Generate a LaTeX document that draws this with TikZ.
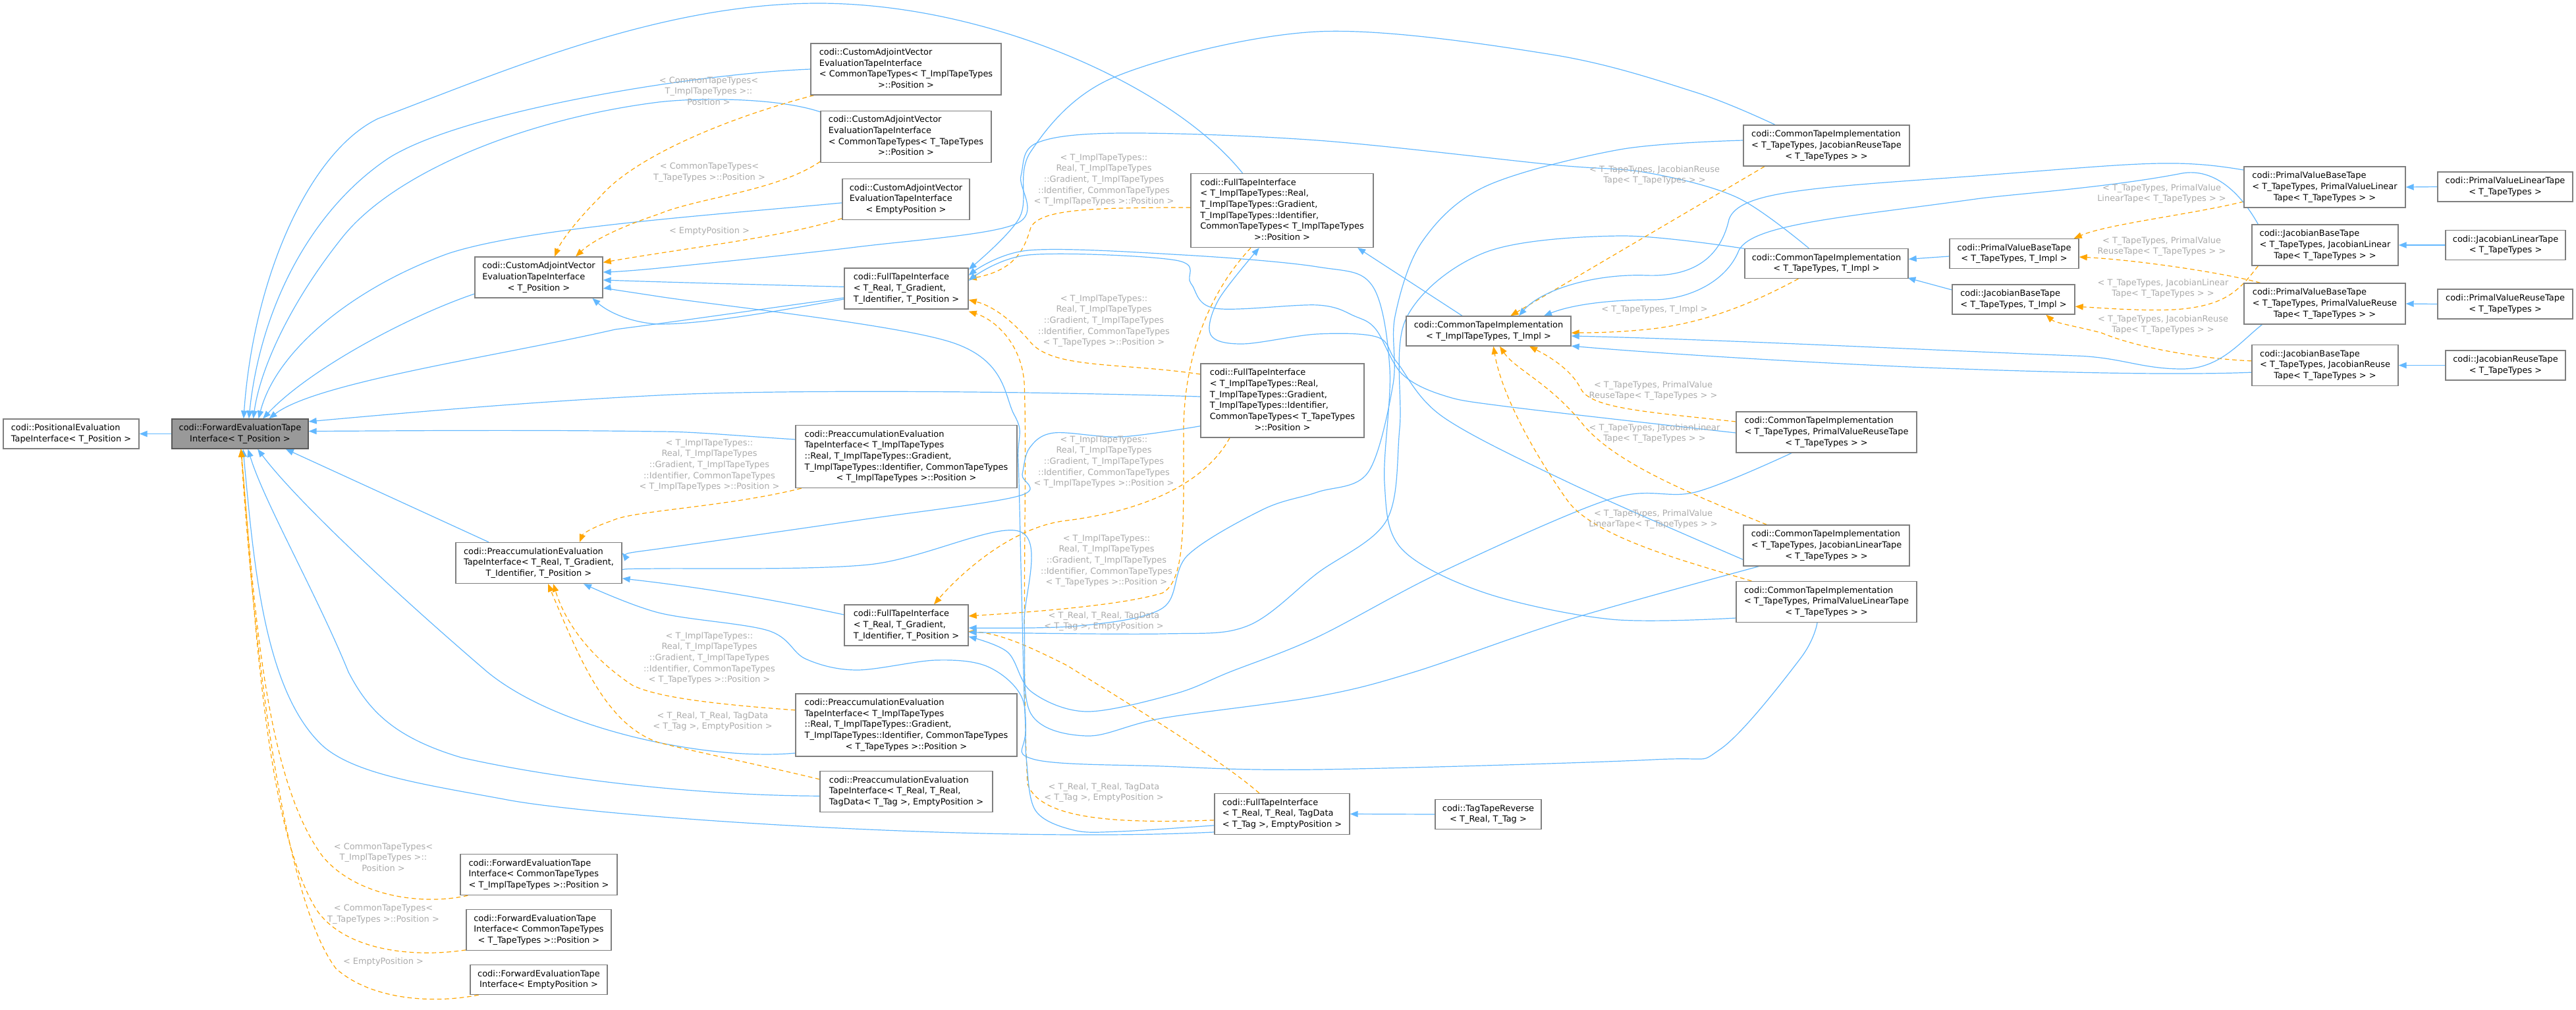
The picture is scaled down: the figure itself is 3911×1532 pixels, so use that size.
\documentclass[tikz,border=0pt]{standalone}
\usepackage{fontspec}
\setmainfont{DejaVu Sans}
\usetikzlibrary{arrows.meta}
\definecolor{eblue}{HTML}{63B8FF}
\definecolor{eorange}{HTML}{FFA500}
\definecolor{lgray}{HTML}{ABABAB}
\definecolor{bgray}{HTML}{7F7F7F}
\definecolor{ngray}{HTML}{999999}
\newcommand\cfont{\fontsize{9.7pt}{12.5pt}\selectfont}
\newcommand\bx[2]{\begin{tabular}{@{}l@{}}#1\multicolumn{1}{@{}c@{}}{#2}\end{tabular}}
\pgfdeclarelayer{bg}
\pgfsetlayers{bg,main}
\tikzset{
  cls/.style={draw=bgray, fill=white, line width=1pt, inner sep=0pt, font=\cfont},
  sz/.style 2 args={minimum width=#1*0.75pt, minimum height=#2*0.75pt},
  inh/.style={draw=eblue, line width=0.9pt, -{Triangle[length=9pt,width=7pt]}},
  tpl/.style={draw=eorange, line width=0.9pt, dash pattern=on 5pt off 3.5pt, -{Triangle[length=9pt,width=7pt]}},
  lbl/.style={text=lgray, font=\cfont, align=center, inner sep=0pt},
  sm/.style={smooth, tension=0.55},
}
\begin{document}
\begin{tikzpicture}[x=0.75pt,y=-0.75pt]
\useasboundingbox (0,0) rectangle (3911,1532);
% ---------------- nodes
\node[cls,sz={206}{45}] (pos) at (108,658.5) {\bx{codi::PositionalEvaluation\\}{TapeInterface< T\_Position >}};
\node[cls,sz={207}{45},fill=ngray,draw=bgray!70!black] (fet) at (364.5,658.5) {\bx{codi::ForwardEvaluationTape\\}{Interface< T\_Position >}};
\node[cls,sz={194}{62}] (cav) at (818,421) {\bx{codi::CustomAdjointVector\\EvaluationTapeInterface\\}{< T\_Position >}};
\node[cls,sz={252}{62}] (pei) at (818,854.5) {\bx{codi::PreaccumulationEvaluation\\TapeInterface< T\_Real, T\_Gradient,\\}{T\_Identifier, T\_Position >}};
\node[cls,sz={238}{62}] (feti) at (818,1327.5) {\bx{codi::ForwardEvaluationTape\\Interface< CommonTapeTypes\\}{< T\_ImplTapeTypes >::Position >}};
\node[cls,sz={220}{62}] (fett) at (818,1411.5) {\bx{codi::ForwardEvaluationTape\\Interface< CommonTapeTypes\\}{< T\_TapeTypes >::Position >}};
\node[cls,sz={208}{45}] (fete) at (818,1487) {\bx{codi::ForwardEvaluationTape\\}{Interface< EmptyPosition >}};
\node[cls,sz={289}{78}] (cav1) at (1375.5,105) {\bx{codi::CustomAdjointVector\\EvaluationTapeInterface\\< CommonTapeTypes< T\_ImplTapeTypes\\}{>::Position >}};
\node[cls,sz={259}{78}] (cav2) at (1375.5,207.5) {\bx{codi::CustomAdjointVector\\EvaluationTapeInterface\\< CommonTapeTypes< T\_TapeTypes\\}{>::Position >}};
\node[cls,sz={193}{62}] (cav3) at (1375.5,302.5) {\bx{codi::CustomAdjointVector\\EvaluationTapeInterface\\}{< EmptyPosition >}};
\node[cls,sz={188}{62}] (fti1) at (1376,438) {\bx{codi::FullTapeInterface\\< T\_Real, T\_Gradient,\\}{T\_Identifier, T\_Position >}};
\node[cls,sz={188}{62}] (fti2) at (1376,949) {\bx{codi::FullTapeInterface\\< T\_Real, T\_Gradient,\\}{T\_Identifier, T\_Position >}};
\node[cls,sz={336}{95}] (peii) at (1376,693) {\bx{codi::PreaccumulationEvaluation\\TapeInterface< T\_ImplTapeTypes\\::Real, T\_ImplTapeTypes::Gradient,\\T\_ImplTapeTypes::Identifier, CommonTapeTypes\\}{< T\_ImplTapeTypes >::Position >}};
\node[cls,sz={336}{95}] (peit) at (1376,1100.5) {\bx{codi::PreaccumulationEvaluation\\TapeInterface< T\_ImplTapeTypes\\::Real, T\_ImplTapeTypes::Gradient,\\T\_ImplTapeTypes::Identifier, CommonTapeTypes\\}{< T\_TapeTypes >::Position >}};
\node[cls,sz={262}{62}] (peitag) at (1376,1201.5) {\bx{codi::PreaccumulationEvaluation\\TapeInterface< T\_Real, T\_Real,\\}{TagData< T\_Tag >, EmptyPosition >}};
\node[cls,sz={277}{112}] (ftii) at (1946.5,319.5) {\bx{codi::FullTapeInterface\\< T\_ImplTapeTypes::Real,\\T\_ImplTapeTypes::Gradient,\\T\_ImplTapeTypes::Identifier,\\CommonTapeTypes< T\_ImplTapeTypes\\}{>::Position >}};
\node[cls,sz={248}{112}] (ftit) at (1947,608) {\bx{codi::FullTapeInterface\\< T\_ImplTapeTypes::Real,\\T\_ImplTapeTypes::Gradient,\\T\_ImplTapeTypes::Identifier,\\CommonTapeTypes< T\_TapeTypes\\}{>::Position >}};
\node[cls,sz={205}{62}] (ftitag) at (1946.5,1235.5) {\bx{codi::FullTapeInterface\\< T\_Real, T\_Real, TagData\\}{< T\_Tag >, EmptyPosition >}};
\node[cls,sz={161}{45}] (ttr) at (2259.5,1236) {\bx{codi::TagTapeReverse\\}{< T\_Real, T\_Tag >}};
\node[cls,sz={250}{45}] (ctii) at (2260,502.5) {\bx{codi::CommonTapeImplementation\\}{< T\_ImplTapeTypes, T\_Impl >}};
\node[cls,sz={252}{62}] (ctijr) at (2773,221) {\bx{codi::CommonTapeImplementation\\< T\_TapeTypes, JacobianReuseTape\\}{< T\_TapeTypes > >}};
\node[cls,sz={248}{45}] (ctit) at (2773,400) {\bx{codi::CommonTapeImplementation\\}{< T\_TapeTypes, T\_Impl >}};
\node[cls,sz={274}{62}] (ctipvr) at (2773,656) {\bx{codi::CommonTapeImplementation\\< T\_TapeTypes, PrimalValueReuseTape\\}{< T\_TapeTypes > >}};
\node[cls,sz={252}{62}] (ctijl) at (2773,828) {\bx{codi::CommonTapeImplementation\\< T\_TapeTypes, JacobianLinearTape\\}{< T\_TapeTypes > >}};
\node[cls,sz={274}{62}] (ctipvl) at (2773,913.5) {\bx{codi::CommonTapeImplementation\\< T\_TapeTypes, PrimalValueLinearTape\\}{< T\_TapeTypes > >}};
\node[cls,sz={196}{45}] (pvb) at (3058,385) {\bx{codi::PrimalValueBaseTape\\}{< T\_TapeTypes, T\_Impl >}};
\node[cls,sz={186}{45}] (jb) at (3057,454.5) {\bx{codi::JacobianBaseTape\\}{< T\_TapeTypes, T\_Impl >}};
\node[cls,sz={245}{62}] (pvbl) at (3529.5,284) {\bx{codi::PrimalValueBaseTape\\< T\_TapeTypes, PrimalValueLinear\\}{Tape< T\_TapeTypes > >}};
\node[cls,sz={222}{62}] (jbl) at (3530,372) {\bx{codi::JacobianBaseTape\\< T\_TapeTypes, JacobianLinear\\}{Tape< T\_TapeTypes > >}};
\node[cls,sz={245}{62}] (pvbr) at (3529.5,461) {\bx{codi::PrimalValueBaseTape\\< T\_TapeTypes, PrimalValueReuse\\}{Tape< T\_TapeTypes > >}};
\node[cls,sz={222}{62}] (jbr) at (3530,554.5) {\bx{codi::JacobianBaseTape\\< T\_TapeTypes, JacobianReuse\\}{Tape< T\_TapeTypes > >}};
\node[cls,sz={205}{45}] (pvlt) at (3803.5,283.5) {\bx{codi::PrimalValueLinearTape\\}{< T\_TapeTypes >}};
\node[cls,sz={182}{45}] (jlt) at (3804,372) {\bx{codi::JacobianLinearTape\\}{< T\_TapeTypes >}};
\node[cls,sz={205}{45}] (pvrt) at (3803.5,461.5) {\bx{codi::PrimalValueReuseTape\\}{< T\_TapeTypes >}};
\node[cls,sz={182}{45}] (jrt) at (3804,554.5) {\bx{codi::JacobianReuseTape\\}{< T\_TapeTypes >}};
% ---------------- labels
\node[lbl] (lcav1) at (1076,138) {< CommonTapeTypes<\\T\_ImplTapeTypes >::\\Position >};
\node[lbl] (lcav2) at (1077,262) {< CommonTapeTypes<\\T\_TapeTypes >::Position >};
\node[lbl] (lcav3) at (1077,351) {< EmptyPosition >};
\node[lbl] (lfeti) at (582,1301) {< CommonTapeTypes<\\T\_ImplTapeTypes >::\\Position >};
\node[lbl] (lfett) at (582,1388) {< CommonTapeTypes<\\T\_TapeTypes >::Position >};
\node[lbl] (lfete) at (582,1460) {< EmptyPosition >};
\node[lbl] (lpeii) at (1077,706) {< T\_ImplTapeTypes::\\Real, T\_ImplTapeTypes\\::Gradient, T\_ImplTapeTypes\\::Identifier, CommonTapeTypes\\< T\_ImplTapeTypes >::Position >};
\node[lbl] (lpeit) at (1077,999) {< T\_ImplTapeTypes::\\Real, T\_ImplTapeTypes\\::Gradient, T\_ImplTapeTypes\\::Identifier, CommonTapeTypes\\< T\_TapeTypes >::Position >};
\node[lbl] (lpeitag) at (1082,1095) {< T\_Real, T\_Real, TagData\\< T\_Tag >, EmptyPosition >};
\node[lbl] (lf1) at (1676,273) {< T\_ImplTapeTypes::\\Real, T\_ImplTapeTypes\\::Gradient, T\_ImplTapeTypes\\::Identifier, CommonTapeTypes\\< T\_ImplTapeTypes >::Position >};
\node[lbl] (lf2) at (1676,487) {< T\_ImplTapeTypes::\\Real, T\_ImplTapeTypes\\::Gradient, T\_ImplTapeTypes\\::Identifier, CommonTapeTypes\\< T\_TapeTypes >::Position >};
\node[lbl] (lf3) at (1676,701) {< T\_ImplTapeTypes::\\Real, T\_ImplTapeTypes\\::Gradient, T\_ImplTapeTypes\\::Identifier, CommonTapeTypes\\< T\_ImplTapeTypes >::Position >};
\node[lbl] (lf4) at (1680,851) {< T\_ImplTapeTypes::\\Real, T\_ImplTapeTypes\\::Gradient, T\_ImplTapeTypes\\::Identifier, CommonTapeTypes\\< T\_TapeTypes >::Position >};
\node[lbl] (lt1) at (1676,943) {< T\_Real, T\_Real, TagData\\< T\_Tag >, EmptyPosition >};
\node[lbl] (lt2) at (1676,1203) {< T\_Real, T\_Real, TagData\\< T\_Tag >, EmptyPosition >};
\node[lbl] (lcjr) at (2512,266) {< T\_TapeTypes, JacobianReuse\\Tape< T\_TapeTypes > >};
\node[lbl] (lct) at (2512,470) {< T\_TapeTypes, T\_Impl >};
\node[lbl] (lcpvr) at (2510,593) {< T\_TapeTypes, PrimalValue\\ReuseTape< T\_TapeTypes > >};
\node[lbl] (lcjl) at (2512,658) {< T\_TapeTypes, JacobianLinear\\Tape< T\_TapeTypes > >};
\node[lbl] (lcpvl) at (2510,788) {< T\_TapeTypes, PrimalValue\\LinearTape< T\_TapeTypes > >};
\node[lbl] (lpvbl) at (3282,294) {< T\_TapeTypes, PrimalValue\\LinearTape< T\_TapeTypes > >};
\node[lbl] (lpvbr) at (3282,374) {< T\_TapeTypes, PrimalValue\\ReuseTape< T\_TapeTypes > >};
\node[lbl] (ljbl) at (3284,438) {< T\_TapeTypes, JacobianLinear\\Tape< T\_TapeTypes > >};
\node[lbl] (ljbr) at (3284,493) {< T\_TapeTypes, JacobianReuse\\Tape< T\_TapeTypes > >};
% ---------------- edges
\begin{pgfonlayer}{bg}
\draw[inh] (fet.west) -- (pos.east);
% into FET top
\draw[inh] ([xshift=-45pt]ftii.north) .. controls (1780,130) and (1500,5) .. (1242,5) .. controls (1000,5) and (760,110) .. (574,180) .. controls (470,230) and (385,420) .. ([xshift=4pt]fet.north);
\draw[inh] (cav1.west) .. controls (1050,112) and (700,170) .. (590,240) .. controls (470,320) and (395,470) .. ([xshift=10pt]fet.north);
\draw[inh] ([yshift=-1.5pt]cav2.north west) .. controls (1180,148) and (1060,148) .. (1000,155) .. controls (800,180) and (600,260) .. (520,360) .. controls (440,460) and (395,560) .. ([xshift=15pt]fet.north);
\draw[inh] ([yshift=-4pt]cav3.west) .. controls (1100,325) and (800,345) .. (680,385) .. controls (540,435) and (420,530) .. ([xshift=21pt]fet.north);
\draw[inh] ([yshift=5pt]cav.south west) .. controls (620,480) and (470,560) .. ([xshift=26pt]fet.north);
\draw[inh] ([yshift=-10.5pt]fti1.west) .. controls (1150,470) and (1050,485) .. (934,500) .. controls (760,540) and (480,580) .. ([xshift=33pt]fet.north);
% into FET right
\draw[inh] ([yshift=4.5pt]ftit.west) .. controls (1500,592) and (1150,592) .. (1000,600) .. controls (800,610) and (600,628) .. ([yshift=14pt]fet.east);
\draw[inh] ([yshift=19.5pt]peii.west) .. controls (1100,660) and (1050,655) .. (1000,655) .. controls (800,652) and (600,654) .. ([yshift=3pt]fet.east);
% into FET bottom
\draw[inh] ([xshift=38pt]pei.north west) -- ([xshift=52pt]fet.south);
\draw[inh] ([yshift=-31.9pt]peit.west) .. controls (1080,1155) and (850,1110) .. (740,1020) .. controls (600,900) and (450,760) .. ([xshift=20pt]fet.south);
\draw[inh] ([yshift=-5pt]peitag.west) .. controls (1100,1208) and (880,1190) .. (701,1150) .. controls (600,1120) and (560,1080) .. (529,1020) .. controls (480,900) and (400,760) .. ([xshift=9pt]fet.south);
\draw[inh] ([yshift=-20.6pt]ftitag.west) .. controls (1500,1280) and (900,1240) .. (765,1213) .. controls (640,1190) and (540,1175) .. (491,1133) .. controls (400,1050) and (385,850) .. ([xshift=3.4pt]fet.south);
% FET instances
\draw[tpl] ([xshift=9pt]feti.south west) .. controls (640,1375) and (540,1360) .. (490,1300) .. controls (400,1180) and (385,900) .. ([xshift=1pt]fet.south);
\draw[tpl] ([yshift=1pt]fett.south west) .. controls (620,1455) and (520,1440) .. (480,1380) .. controls (400,1250) and (385,900) .. ([xshift=1pt]fet.south);
\draw[tpl] ([xshift=10pt]fete.south west) .. controls (650,1525) and (560,1515) .. (510,1470) .. controls (420,1350) and (380,900) .. ([xshift=1pt]fet.south);
% CAV instances
\draw[tpl] ([xshift=4pt]cav1.south west) .. controls (1100,180) and (960,240) .. (910,300) .. controls (870,340) and (850,370) .. ([xshift=18pt]cav.north);
\draw[tpl] ([yshift=1.5pt]cav2.south west) .. controls (1180,290) and (1060,300) .. (1000,325) .. controls (940,345) and (900,365) .. ([xshift=42pt]cav.north);
\draw[tpl] ([yshift=2pt]cav3.south west) .. controls (1190,360) and (1050,375) .. ([yshift=17pt]cav.east);
% PEI instances
\draw[tpl] ([xshift=7pt]peii.south west) .. controls (1100,770) and (960,775) .. (930,790) .. controls (900,800) and (885,810) .. ([xshift=46.5pt]pei.north);
\draw[tpl] ([yshift=17pt]peit.west) .. controls (1100,1070) and (1000,1060) .. (960,1040) .. controls (900,1000) and (860,950) .. ([xshift=16.5pt]pei.south);
\draw[tpl] ([yshift=14pt]peitag.west) .. controls (1150,1160) and (1050,1140) .. (1000,1127) .. controls (920,1100) and (880,1000) .. ([xshift=10.5pt]pei.south);
% FTI instances
\draw[tpl] ([yshift=3.4pt]ftii.west) .. controls (1650,315) and (1580,318) .. (1565,345) .. controls (1555,380) and (1540,410) .. ([yshift=11pt]fti1.east);
\draw[tpl] ([yshift=30pt]ftit.west) .. controls (1700,550) and (1600,560) .. (1565,520) .. controls (1540,490) and (1510,465) .. ([yshift=-12.8pt]fti1.east);
\draw[tpl] ([yshift=-7pt]ftitag.west) .. controls (1700,1250) and (1580,1245) .. (1560,1190) .. controls (1550,1000) and (1560,700) .. (1555,580) .. controls (1550,520) and (1510,485) .. ([yshift=-26pt]fti1.east);
\draw[tpl] ([xshift=-35.6pt]ftii.south) .. controls (1830,450) and (1798,550) .. (1797,650) .. controls (1797,800) and (1800,880) .. (1765,900) .. controls (1700,920) and (1550,930) .. ([yshift=10.5pt]fti2.east);
\draw[tpl] ([xshift=-60pt]ftit.south) .. controls (1820,750) and (1700,780) .. (1620,790) .. controls (1530,800) and (1450,880) .. ([xshift=31.5pt]fti2.north);
\draw[tpl] ([xshift=-26pt]ftitag.north) .. controls (1850,1150) and (1700,1060) .. (1620,1010) .. controls (1560,980) and (1520,962) .. ([yshift=-7pt]fti2.east);
% FullTapeInterface bases
\draw[inh] ([yshift=2pt]fti1.west) .. controls (1150,432) and (1000,428) .. ([yshift=-3pt]cav.east);
\draw[inh] ([yshift=-12pt]fti1.west) .. controls (1150,478) and (1060,492) .. (1000,492) .. controls (960,490) and (925,475) .. ([xshift=61pt]cav.south);
\draw[inh] ([yshift=12pt]fti2.west) .. controls (1150,905) and (1050,890) .. ([yshift=-17.6pt]pei.east);
\draw[inh] plot[sm] coordinates {([yshift=-13pt]ftitag.west) (1700,1262) (1630,1260) (1572,1230) (1558,1150) (1552,1060) (1500,1012) (1421,1002) (1300,1017) (1223,1000) (1166,957) (1000,930) ([xshift=51pt]pei.south)};
\draw[inh] plot[sm] coordinates {([yshift=-29pt]ftit.west) (1702,663) (1600,657) (1563,680) (1552,720) (1546,753) (1300,790) (1000,833) ([yshift=11.6pt]pei.east)};
% CommonTapeImplementation instances
\draw[inh] plot[sm] coordinates {([xshift=-58.5pt]ctijr.north) (2574,140) (2357,83) (2000,48) (1692,117) (1565,230) (1548,330) ([yshift=-2pt]fti1.north east)};
\draw[inh] plot[sm] coordinates {([xshift=-20pt]ctit.north) (2638,300) (2500,262) (2357,250) (2000,213) (1702,202) (1574,217) (1550,267) (1542,340) (1300,375) (1000,407) ([yshift=6pt]cav.east)};
\draw[inh] plot[sm] coordinates {([yshift=-18.4pt]ctipvl.west) (2446,940) (2255,900) (2128,833) (2102,733) (2110,560) (2083,433) (2000,405) (1797,387) (1561,380) ([yshift=15pt]fti1.east)};
\draw[inh] plot[sm] coordinates {([yshift=-0.75pt]ctipvr.west) (2287,617) (2191,600) (2128,567) (2089,500) (2057,480) (2000,463) (1845,468) (1808,430) (1785,395) (1561,387) ([yshift=9pt]fti1.east)};
\draw[inh] plot[sm] coordinates {([yshift=-16pt]ctijl.west) (2383,733) (2191,633) (2121,550) (2092,512) (2000,507) (1886,522) (1838,508) (1850,455) ([xshift=-26pt]ftii.south)};
\draw[inh] plot[sm] coordinates {([yshift=6pt]ctijr.west) (2459,227) (2255,283) (2159,367) (2118,480) (2115,583) (2077,717) (2000,747) (1918,773) (1803,843) (1765,923) (1638,950) ([yshift=-3pt]fti2.east)};
\draw[inh] plot[sm] coordinates {([yshift=17pt]ctit.west) (2459,358) (2255,383) (2135,483) (2125,650) (2105,790) (2000,870) (1894,950) (1765,962) ([yshift=-8pt]fti2.east)};
\draw[inh] plot[sm] coordinates {([xshift=-39.75pt]ctipvr.south) (2574,747) (2446,757) (2191,867) (2000,967) (1867,1020) (1784,1053) (1650,1080) (1566,1050) (1530,990) ([yshift=-13pt]fti2.east)};
\draw[inh] plot[sm] coordinates {([xshift=-77pt]ctijl.south) (2383,940) (2147,1020) (2000,1057) (1765,1090) (1650,1117) (1565,1083) (1555,950) (1549,807) (1319,857) (1000,863) ([yshift=-5.6pt]pei.east)};
\draw[inh] plot[sm] coordinates {([xshift=-10.5pt]ctipvl.south) (2733,1000) (2612,1137) (2510,1153) (2000,1168) (1765,1163) (1568,1152) (1557,1100) (1551,900) (1546,700) (1540,630) (1446,520) (1000,450) ([yshift=-12.75pt]cav.east)};
% misc
\draw[inh] (ttr.west) -- (ftitag.east);
\draw[inh] ([xshift=-30pt]ctii.north) -- ([xshift=86pt]ftii.south);
% CTI instances (template)
\draw[tpl] ([xshift=-32pt]ctit.south) .. controls (2680,450) and (2600,490) .. (2500,500) .. controls (2450,505) and (2410,505) .. ([yshift=-2pt]ctii.east);
\draw[tpl] ([xshift=-70.5pt]ctijr.south) -- ([xshift=25pt]ctii.north);
\draw[tpl] ([yshift=12pt]ctipvr.west) .. controls (2500,625) and (2415,620) .. (2400,590) .. controls (2385,560) and (2350,540) .. ([xshift=46.5pt]ctii.south);
\draw[tpl] ([xshift=-68pt]ctijl.north) .. controls (2560,747) and (2446,700) .. (2400,640) .. controls (2350,580) and (2300,560) .. ([xshift=12.75pt]ctii.south);
\draw[tpl] ([xshift=18pt]ctipvl.north west) .. controls (2561,853) and (2420,815) .. (2380,760) .. controls (2330,690) and (2280,600) .. ([xshift=5.5pt]ctii.south);
% base tapes
\draw[inh] ([yshift=-3pt]pvb.west) -- ([yshift=5pt]ctit.east);
\draw[inh] ([yshift=10.9pt]jb.west) -- ([xshift=-1pt,yshift=1pt]ctit.south east);
\draw[tpl] ([yshift=-16.5pt]pvbl.west) .. controls (3330,325) and (3200,340) .. ([xshift=-6pt]pvb.north east);
\draw[tpl] ([xshift=19pt]pvbr.north west) .. controls (3380,415) and (3250,395) .. ([yshift=-3.75pt]pvb.east);
\draw[tpl] ([xshift=7.5pt]jbl.south west) .. controls (3400,440) and (3380,465) .. (3300,470) .. controls (3250,472) and (3200,468) .. ([yshift=-8pt]jb.east);
\draw[tpl] ([yshift=5pt]jbr.west) .. controls (3350,545) and (3250,530) .. (3190,505) .. controls (3150,495) and (3120,490) .. ([xshift=37pt]jb.south);
\draw[inh] ([yshift=19.5pt]pvbl.west) .. controls (3300,240) and (3250,248) .. (3000,267) .. controls (2750,285) and (2640,290) .. (2625,333) .. controls (2610,400) and (2560,420) .. (2500,418) .. controls (2420,415) and (2340,440) .. ([xshift=34.5pt]ctii.north);
\draw[inh] ([xshift=7.5pt]jbl.north west) .. controls (3400,290) and (3360,255) .. (3313,263) .. controls (3200,285) and (3050,295) .. (3000,302) .. controls (2800,330) and (2660,340) .. (2640,380) .. controls (2620,430) and (2560,455) .. (2510,455) .. controls (2430,455) and (2380,465) .. ([xshift=63pt]ctii.north);
\draw[inh] ([xshift=21pt]pvbr.south west) .. controls (3400,520) and (3370,560) .. (3313,560) .. controls (3250,560) and (3220,542) .. (3150,540) .. controls (2900,530) and (2600,515) .. ([yshift=-5.6pt]ctii.east);
\draw[inh] ([yshift=-8pt]jbr.west) .. controls (3300,570) and (3100,565) .. (2900,557) .. controls (2700,548) and (2500,535) .. ([yshift=-17pt]ctii.east);
\draw[inh] (pvlt.west) -- (pvbl.east);
\draw[inh] (jlt.west) -- (jbl.east);
\draw[inh] (pvrt.west) -- (pvbr.east);
\draw[inh] (jrt.west) -- (jbr.east);
\end{pgfonlayer}
\end{tikzpicture}
\end{document}
